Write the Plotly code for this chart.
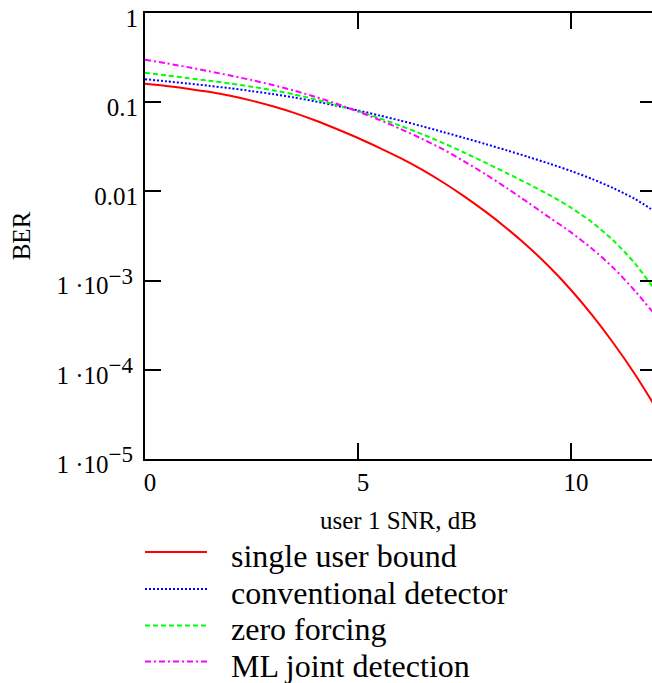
import plotly.graph_objects as go

# ---- data ----
snr_db = [0, 0.5, 1, 1.5, 2, 2.5, 3, 3.5, 4, 4.5, 5, 5.5, 6, 6.5, 7, 7.5, 8, 8.5,
          9, 9.5, 10, 10.5, 11, 11.5, 12]
single_user_bound = [0.1611, 0.1521, 0.1419, 0.1306, 0.1180, 0.1042, 0.0899, 0.0759,
                     0.0624, 0.0501, 0.0397, 0.0308, 0.0236, 0.01754, 0.01259, 0.00875,
                     0.00589, 0.00382, 0.00238, 0.00141, 7.85e-4, 4.07e-4, 1.97e-4,
                     8.9e-5, 3.69e-5]
conventional_detector = [0.1811, 0.1714, 0.1622, 0.1528, 0.1432, 0.1334, 0.1233, 0.1130,
                         0.1021, 0.0912, 0.0809, 0.0711, 0.0621, 0.0538, 0.0463, 0.0397,
                         0.0339, 0.0288, 0.0243, 0.0204, 0.01694, 0.01374, 0.01084,
                         0.00822, 0.00582]
zero_forcing = [0.2138, 0.2000, 0.1866, 0.1742, 0.1618, 0.1493, 0.1361, 0.1222,
                0.1076, 0.0931, 0.0794, 0.0662, 0.0543, 0.0439, 0.0348, 0.0271,
                0.0209, 0.01596, 0.01211, 0.00906, 0.00656, 0.00447, 0.00279,
                0.001556, 7.45e-4]
ml_joint_detection = [0.2985, 0.2729, 0.2472, 0.2223, 0.1991, 0.1770, 0.1556, 0.1349,
                      0.1148, 0.0959, 0.0787, 0.0634, 0.0501, 0.0389, 0.0295, 0.0216,
                      0.01549, 0.01084, 0.00745, 0.00507, 0.00347, 0.00226, 0.00138,
                      7.67e-4, 3.98e-4]

series_names = ["single user bound", "conventional detector",
                "zero forcing", "ML joint detection"]
series_values = [single_user_bound, conventional_detector, zero_forcing, ml_joint_detection]
series_colors = ["#ff0000", "#0000ff", "#00ff00", "#ff00ff"]
series_dash = ["solid", "2px,2px", "5px,3px", "6px,3px,2px,3px"]

x_ticks = [0, 5, 10]
x_ticktext = ["0", "5", "10"]
y_ticks_decimal = [1e-2, 1e-1, 1]
y_ticktext_decimal = ["0.01", "0.1", "1"]
y_ticks_power = [1e-5, 1e-4, 1e-3]
SUP = '1 ·10<sup><span style="font-size:23px">{}</span></sup>'
y_ticktext_power = [SUP.format("−5"), SUP.format("−4"), SUP.format("−3")]
y_ticks_all = y_ticks_power + y_ticks_decimal

# ---- layout geometry ----
W, H = 652, 683
ML, MR, MT, MB = 145, 0, 13, 224
PW = W - ML - MR
PH = H - MT - MB
FONT = "Liberation Serif"


def px_x(p):
    return (p - ML) / PW


def px_y(p):
    return (H - MB - p) / PH


fig = go.Figure()
for name, vals, col, dash in zip(series_names, series_values, series_colors, series_dash):
    fig.add_trace(go.Scatter(
        x=snr_db, y=vals, name=name, mode="lines",
        line=dict(color=col, width=2, dash=dash, shape="spline", smoothing=0.8),
        showlegend=False,
    ))
# empty traces so that the two helper axes (power labels, right-hand ticks) are drawn
for ax in ("y2", "y3"):
    fig.add_trace(go.Scatter(x=[], y=[], yaxis=ax, mode="lines",
                             showlegend=False, hoverinfo="skip"))

tick_font = dict(family=FONT, size=25, color="black")
axis_common = dict(
    ticks="inside", ticklen=16, tickwidth=2, tickcolor="black",
    showgrid=False, zeroline=False, ticklabeloverflow="allow", tickfont=tick_font,
)

fig.update_layout(
    width=W, height=H,
    margin=dict(l=ML, r=MR, t=MT, b=MB, autoexpand=False),
    paper_bgcolor="white", plot_bgcolor="white",
    font=dict(family=FONT, color="black"),
    showlegend=False,
    xaxis=dict(
        range=[0, 11.90], tickmode="array", tickvals=x_ticks, ticktext=x_ticktext,
        showline=True, linewidth=2, linecolor="black", mirror="ticks",
        ticklabelshift=5,
        title=dict(text="user 1 SNR, dB", standoff=16,
                   font=dict(family=FONT, size=25, color="black")),
        **axis_common,
    ),
    # left axis: line, decimal tick labels and the axis title
    yaxis=dict(
        type="log", range=[-5, 0], tickmode="array",
        tickvals=y_ticks_decimal, ticktext=y_ticktext_decimal,
        showline=True, linewidth=2, linecolor="black", mirror=False,
        ticklabelshift=5,
        title=dict(text="BER", standoff=57,
                   font=dict(family=FONT, size=25, color="black")),
        **axis_common,
    ),
    # left axis, power-of-ten labels (set a little further from the axis)
    yaxis3=dict(
        type="log", range=[-5, 0], overlaying="y", side="left", anchor="x",
        tickmode="array", tickvals=y_ticks_power, ticktext=y_ticktext_power,
        showline=False, ticklabelshift=5, ticklabelstandoff=11,
        **axis_common,
    ),
    # right side: mirrored inward ticks only
    yaxis2=dict(
        type="log", range=[-5, 0], overlaying="y", side="right", anchor="x",
        tickmode="array", tickvals=y_ticks_all, ticks="inside", ticklen=12, tickwidth=2,
        tickcolor="black", showticklabels=False, showline=False, showgrid=False,
        zeroline=False,
    ),
)

# ---- legend drawn below the plot (long sample lines as in the reference) ----
line_rows = [552, 589, 625.6, 661.5]
text_rows = [556, 592.5, 629, 665.5]
for name, col, dash, ly, ty in zip(series_names, series_colors, series_dash, line_rows, text_rows):
    fig.add_shape(type="line", xref="paper", yref="paper",
                  x0=px_x(145), x1=px_x(207), y0=px_y(ly), y1=px_y(ly),
                  line=dict(color=col, width=2, dash=dash))
    fig.add_annotation(xref="paper", yref="paper", x=px_x(229), y=px_y(ty),
                       xanchor="left", yanchor="middle", showarrow=False,
                       text=name, font=dict(family=FONT, size=32, color="black"))

fig.write_html("out.html", config={"displayModeBar": False},
               post_script="document.body.style.margin='0px';")
